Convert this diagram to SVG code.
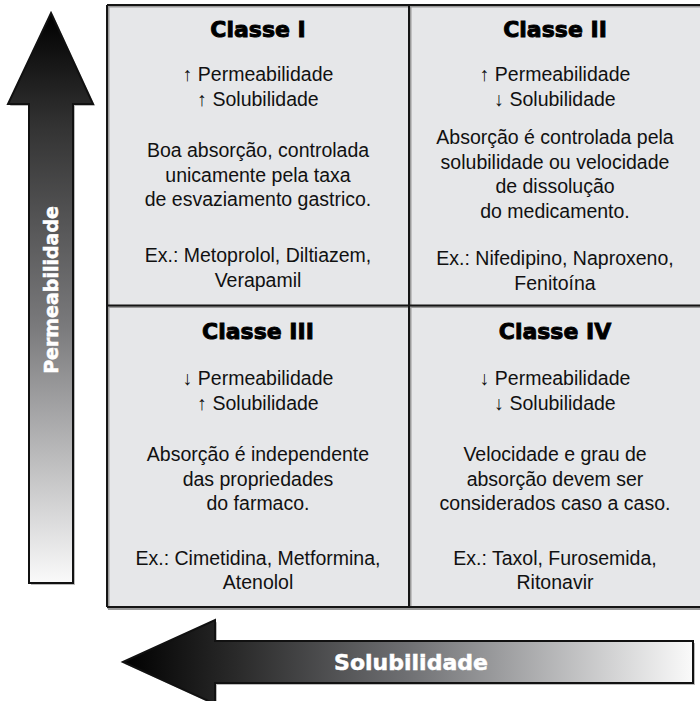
<svg xmlns="http://www.w3.org/2000/svg" width="700" height="701" viewBox="0 0 700 701">
<defs>
<linearGradient id="gv" x1="0" y1="13" x2="0" y2="583" gradientUnits="userSpaceOnUse">
<stop offset="0" stop-color="#000"/>
<stop offset="0.2" stop-color="#333"/>
<stop offset="0.55" stop-color="#7a7a7c"/>
<stop offset="1" stop-color="#fafafa"/>
</linearGradient>
<linearGradient id="gh" x1="123" y1="0" x2="693" y2="0" gradientUnits="userSpaceOnUse">
<stop offset="0" stop-color="#000"/>
<stop offset="0.2" stop-color="#2a2a2a"/>
<stop offset="0.5" stop-color="#6f7073"/>
<stop offset="1" stop-color="#fafafa"/>
</linearGradient>
<style>
.cell{fill:#e6e7e9;stroke:none}
.grid{stroke:#151515;stroke-width:2;fill:none}
.shadow{stroke:#9a9a9a;stroke-width:2;fill:none}
.title{font-family:"DejaVu Sans",sans-serif;font-weight:bold;font-size:22px;fill:#000;stroke:#000;stroke-width:0.9;text-anchor:middle}
.body{font-family:"Liberation Sans",Arial,sans-serif;font-size:19.5px;fill:#111;text-anchor:middle}
.axis{font-family:"DejaVu Sans",sans-serif;font-weight:bold;fill:#fff;stroke:#fff;stroke-width:0.5;text-anchor:middle}
.arrow{stroke:#111;stroke-width:2;stroke-linejoin:miter}
</style>
</defs>
<rect width="700" height="701" fill="#fff"/>

<g id="grid">
<rect class="cell" x="107" y="5" width="600" height="602"/>
<path class="shadow" d="M108,6.5 H702 M410.5,6 V608 M108,307 H702 M108.5,6 V609 M108,609 H702"/>
<path class="grid" d="M107,5 H702 M409,5 V607 M107,305.5 H702 M107,5 V607 M107,607 H702"/>
</g>

<g id="classe1">
<text class="title" x="258" y="37">Classe I</text>
<text class="body" x="258" y="81">↑ Permeabilidade</text>
<text class="body" x="258" y="106">↑ Solubilidade</text>
<text class="body" x="258" y="157">Boa absorção, controlada</text>
<text class="body" x="258" y="182">unicamente pela taxa</text>
<text class="body" x="258" y="206">de esvaziamento gastrico.</text>
<text class="body" x="258" y="262">Ex.: Metoprolol, Diltiazem,</text>
<text class="body" x="258" y="287">Verapamil</text>
</g>

<g id="classe2">
<text class="title" x="555" y="37">Classe II</text>
<text class="body" x="555" y="81">↑ Permeabilidade</text>
<text class="body" x="555" y="106">↓ Solubilidade</text>
<text class="body" x="555" y="144">Absorção é controlada pela</text>
<text class="body" x="555" y="169">solubilidade ou velocidade</text>
<text class="body" x="555" y="193">de dissolução</text>
<text class="body" x="555" y="218">do medicamento.</text>
<text class="body" x="555" y="265">Ex.: Nifedipino, Naproxeno,</text>
<text class="body" x="555" y="290">Fenitoína</text>
</g>

<g id="classe3">
<text class="title" x="258" y="339">Classe III</text>
<text class="body" x="258" y="385">↓ Permeabilidade</text>
<text class="body" x="258" y="410">↑ Solubilidade</text>
<text class="body" x="258" y="461">Absorção é independente</text>
<text class="body" x="258" y="486">das propriedades</text>
<text class="body" x="258" y="510">do farmaco.</text>
<text class="body" x="258" y="565">Ex.: Cimetidina, Metformina,</text>
<text class="body" x="258" y="589">Atenolol</text>
</g>

<g id="classe4">
<text class="title" x="555" y="339">Classe IV</text>
<text class="body" x="555" y="385">↓ Permeabilidade</text>
<text class="body" x="555" y="410">↓ Solubilidade</text>
<text class="body" x="555" y="461">Velocidade e grau de</text>
<text class="body" x="555" y="486">absorção devem ser</text>
<text class="body" x="555" y="510">considerados caso a caso.</text>
<text class="body" x="555" y="565">Ex.: Taxol, Furosemida,</text>
<text class="body" x="555" y="589">Ritonavir</text>
</g>

<g id="connectors">
<g id="axis-permeabilidade">
<polygon points="53,15 95,106 75,106 75,585 31,585 31,106 10,106" fill="#bbb" stroke="none"/>
<polygon class="arrow" points="51,13 93,104 73,104 73,583 29,583 29,104 8,104" fill="url(#gv)"/>
<text class="axis" font-size="19" transform="translate(58,290) rotate(-90)">Permeabilidade</text>
</g>
<g id="axis-solubilidade">
<polygon points="125,664 217,622 217,643 695,643 695,685 217,685 217,706" fill="#bbb" stroke="none"/>
<polygon class="arrow" points="123,662 215,620 215,641 693,641 693,683 215,683 215,704" fill="url(#gh)"/>
<text class="axis" font-size="22" x="411" y="670">Solubilidade</text>
</g>
</g>
</svg>
